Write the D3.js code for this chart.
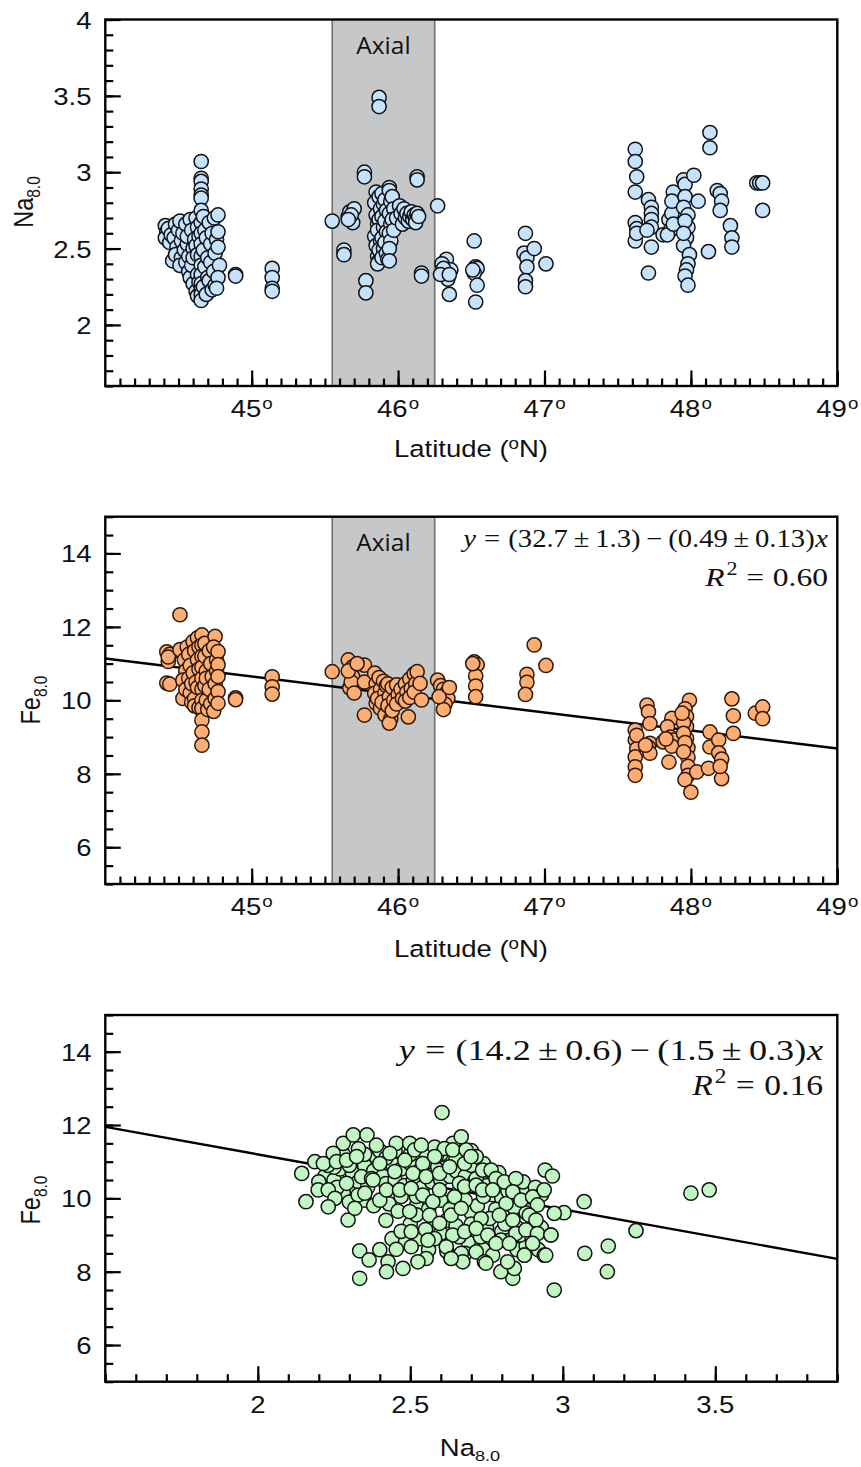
<!DOCTYPE html>
<html>
<head>
<meta charset="utf-8">
<script src="https://cdn.jsdelivr.net/npm/d3@7"></script>
<style>
  body { margin: 0; background: #fff; }
  svg { display: block; }
</style>
</head>
<body>
<svg id="fig" width="861" height="1467"></svg>
<script>
// ---------- data ----------
// Na8.0 against latitude (°N)
const naByLatitude = [
  [44.41,2.65],[44.42,2.61],[44.41,2.57],[44.43,2.63],[44.46,2.42],[44.44,2.54],[44.45,2.59],
  [44.48,2.66],[44.47,2.57],[44.49,2.51],[44.48,2.46],[44.50,2.62],
  [44.51,2.68],[44.52,2.55],[44.52,2.44],[44.51,2.39],[44.53,2.60],[44.54,2.49],
  [44.55,2.66],[44.56,2.53],[44.55,2.41],[44.57,2.35],[44.56,2.58],[44.57,2.45],[44.58,2.31],
  [44.58,2.69],[44.59,2.62],[44.60,2.50],[44.59,2.39],[44.60,2.27],[44.61,2.56],[44.60,2.44],
  [44.62,2.70],[44.63,2.64],[44.62,2.52],[44.63,2.33],[44.62,2.22],[44.63,2.46],[44.64,2.28],[44.64,2.58],[44.63,2.19],
  [44.655,3.07],[44.655,2.96],[44.655,2.94],[44.655,2.89],[44.655,2.85],[44.655,2.83],[44.655,2.75],
  [44.655,2.67],[44.655,2.60],[44.655,2.53],[44.655,2.45],[44.655,2.39],[44.655,2.33],[44.655,2.27],
  [44.655,2.23],[44.655,2.20],[44.655,2.16],
  [44.67,2.71],[44.68,2.62],[44.67,2.49],[44.68,2.38],[44.67,2.25],[44.69,2.57],[44.70,2.31],[44.69,2.20],[44.70,2.44],
  [44.71,2.67],[44.72,2.53],[44.72,2.41],[44.71,2.29],[44.73,2.23],[44.73,2.60],
  [44.745,2.70],[44.75,2.47],[44.74,2.35],[44.75,2.26],[44.76,2.56],
  [44.77,2.72],[44.77,2.61],[44.77,2.51],[44.78,2.39],[44.77,2.31],[44.76,2.24],
  [44.89,2.33],[44.89,2.32],
  [45.14,2.37],[45.14,2.31],[45.14,2.24],[45.14,2.22],
  [45.55,2.68],
  [45.66,2.71],[45.67,2.74],[45.70,2.76],[45.69,2.67],[45.68,2.72],[45.66,2.69],
  [45.63,2.49],[45.63,2.46],[45.78,2.29],[45.78,2.21],[45.77,3.00],[45.77,2.97],
  [45.87,3.49],[45.87,3.43],
  [45.85,2.87],[45.84,2.80],[45.85,2.72],[45.86,2.66],[45.84,2.58],[45.85,2.52],[45.86,2.45],
  [45.87,2.84],[45.88,2.76],[45.87,2.69],[45.86,2.62],[45.88,2.55],[45.87,2.49],[45.87,2.42],[45.86,2.40],
  [45.89,2.86],[45.90,2.79],[45.89,2.71],[45.90,2.64],[45.89,2.57],[45.90,2.50],[45.89,2.44],
  [45.91,2.82],[45.92,2.75],[45.91,2.68],[45.92,2.61],[45.91,2.54],[45.92,2.47],[45.93,2.43],
  [45.94,2.90],[45.94,2.88],[45.95,2.81],[45.94,2.73],[45.95,2.66],[45.94,2.60],[45.95,2.55],[45.94,2.50],[45.94,2.42],
  [45.96,2.84],[45.97,2.76],[45.96,2.69],[45.97,2.62],
  [45.99,2.70],[46.01,2.78],[46.02,2.73],[46.03,2.66],[46.04,2.76],[46.05,2.70],[46.06,2.73],[46.07,2.68],
  [46.08,2.71],[46.09,2.74],[46.10,2.69],[46.11,2.72],[46.12,2.70],[46.13,2.73],[46.12,2.67],[46.14,2.71],
  [46.13,2.97],[46.13,2.95],[46.27,2.78],[46.16,2.34],[46.16,2.32],
  [46.33,2.43],[46.30,2.40],[46.32,2.34],[46.36,2.36],[46.34,2.30],[46.31,2.37],[46.29,2.33],[46.35,2.33],[46.35,2.20],
  [46.52,2.55],[46.53,2.38],[46.54,2.37],[46.52,2.34],[46.54,2.26],[46.53,2.15],[46.51,2.36],
  [46.87,2.60],[46.86,2.47],[46.88,2.44],[46.93,2.50],[46.88,2.38],[46.87,2.29],[46.87,2.25],
  [47.01,2.40],
  [47.62,3.15],[47.62,3.07],[47.63,2.97],[47.62,2.87],[47.62,2.67],[47.63,2.63],[47.62,2.55],[47.63,2.60],
  [47.71,2.82],[47.73,2.77],[47.73,2.73],[47.73,2.69],[47.73,2.64],[47.70,2.62],[47.73,2.51],[47.71,2.34],
  [47.81,2.59],[47.85,2.69],[47.86,2.62],[47.84,2.59],[47.87,2.73],[47.88,2.87],[47.87,2.81],[47.88,2.66],
  [47.95,2.95],[47.96,2.92],[48.02,2.98],[47.96,2.84],[47.95,2.77],[47.98,2.72],[47.98,2.64],[47.97,2.57],
  [47.95,2.52],[47.99,2.46],[47.98,2.40],[47.97,2.36],[47.96,2.32],[47.98,2.26],[47.96,2.68],[47.95,2.60],
  [48.05,2.81],[48.13,3.26],[48.13,3.16],[48.12,2.48],
  [48.18,2.88],[48.20,2.86],[48.21,2.81],[48.20,2.75],
  [48.27,2.65],[48.28,2.57],[48.28,2.51],
  [48.45,2.93],[48.47,2.93],[48.49,2.93],[48.49,2.75]
];

// Fe8.0 against latitude (°N)
const feByLatitude = [
  [44.51,12.33],
  [44.42,11.32],[44.44,11.25],[44.43,11.06],[44.42,10.47],[44.44,10.44],[44.43,11.18],
  [44.51,11.38],[44.53,10.05],
  [44.54,11.1],[44.55,10.8],[44.53,10.55],[44.55,10.3],[44.56,11.45],
  [44.57,11.25],[44.58,10.95],[44.57,10.6],[44.58,10.2],[44.59,9.95],[44.59,10.45],
  [44.60,11.6],[44.61,11.35],[44.60,10.75],[44.61,10.05],[44.62,10.5],[44.61,9.85],
  [44.63,11.7],[44.63,11.1],[44.64,10.85],[44.63,10.35],[44.64,9.8],[44.64,11.45],
  [44.66,11.78],[44.66,11.5],[44.66,11.2],[44.66,10.9],[44.66,10.6],[44.66,10.3],[44.66,10.0],[44.66,9.78],
  [44.66,9.46],[44.66,9.14],[44.66,8.78],
  [44.68,11.55],[44.68,11.2],[44.69,10.8],[44.68,10.4],[44.69,10.0],[44.70,9.75],[44.69,10.6],
  [44.71,11.35],[44.72,11.0],[44.71,10.3],[44.72,9.9],[44.73,10.65],
  [44.75,11.74],[44.74,11.45],[44.76,11.1],[44.75,10.45],[44.75,10.05],[44.74,9.7],[44.76,10.8],
  [44.77,11.33],[44.77,10.97],[44.77,10.65],[44.77,10.24],[44.77,9.92],
  [44.89,10.07],[44.89,10.02],
  [45.14,10.64],[45.14,10.37],[45.14,10.17],
  [45.55,10.78],
  [45.66,11.10],[45.69,10.91],[45.69,10.64],[45.67,10.34],[45.68,10.5],[45.66,10.8],[45.70,10.2],
  [45.77,10.96],[45.77,10.50],[45.77,9.60],[45.72,11.0],
  [45.84,10.74],[45.85,10.45],[45.84,10.19],[45.85,9.92],
  [45.87,10.62],[45.88,10.3],[45.86,10.05],[45.88,9.78],
  [45.90,10.52],[45.91,10.2],[45.89,9.95],[45.91,9.6],[45.92,10.4],
  [45.93,10.45],[45.94,10.1],[45.93,9.85],[45.95,9.5],[45.94,9.38],
  [45.96,10.35],[45.97,10.0],[45.96,9.72],
  [45.99,10.42],[46.00,10.15],[45.99,9.9],
  [46.02,10.3],[46.03,10.05],
  [46.05,10.45],[46.06,10.22],[46.05,9.98],
  [46.08,10.58],[46.09,10.32],[46.08,10.08],
  [46.11,10.72],[46.12,10.45],[46.11,10.22],
  [46.07,9.55],[46.13,10.78],[46.15,10.46],[46.16,10.01],
  [46.27,10.55],[46.29,10.4],[46.31,10.3],[46.33,10.2],[46.34,10.05],[46.32,9.9],[46.31,9.75],[46.28,10.1],[46.35,10.35],
  [46.52,11.05],[46.54,10.97],[46.53,10.66],[46.53,10.39],[46.53,10.10],[46.51,11.0],
  [46.93,11.51],[47.01,10.95],[46.88,10.71],[46.88,10.49],[46.87,10.16],
  [47.62,9.19],[47.62,8.92],[47.63,8.68],[47.62,8.46],[47.62,8.19],[47.62,7.96],[47.63,9.05],
  [47.70,9.87],[47.71,9.69],[47.72,9.37],[47.72,8.83],[47.71,8.73],[47.70,8.64],[47.72,8.56],[47.69,8.78],
  [47.87,9.51],[47.84,9.28],[47.86,9.0],[47.88,8.92],[47.81,8.87],[47.85,8.32],[47.87,8.75],[47.83,8.95],
  [47.99,10.0],[47.96,9.77],[47.97,9.56],[47.97,9.29],[47.97,8.97],[47.98,8.71],[47.98,8.45],[47.98,8.2],
  [47.98,7.96],[47.96,7.84],[48.0,7.5],[47.95,9.4],[47.95,9.1],[47.96,8.85],[47.95,8.6],[47.94,9.65],
  [48.04,8.05],[48.12,8.15],[48.13,9.14],[48.13,8.73],
  [48.19,8.92],[48.19,8.57],[48.21,8.4],[48.21,7.87],[48.2,8.2],
  [48.28,10.04],[48.29,9.58],[48.29,9.10],
  [48.44,9.65],[48.49,9.82],[48.49,9.50]
];

// Fe8.0 against Na8.0
const feByNa = [
  // body of the cloud
  [2.22,10.6],[2.25,10.5],[2.27,10.8],[2.3,10.3],[2.31,10.7],[2.33,10.45],[2.35,10.9],[2.36,10.3],
  [2.38,10.75],[2.39,11.1],[2.41,10.6],[2.42,10.4],[2.44,10.95],[2.45,10.5],[2.47,10.8],[2.48,10.35],
  [2.5,10.95],[2.51,10.5],[2.53,10.75],[2.54,10.3],[2.56,11.0],[2.57,10.45],[2.59,10.85],[2.6,10.5],
  [2.62,11.05],[2.63,10.6],[2.65,10.75],[2.66,10.2],[2.68,10.6],[2.7,10.9],[2.71,10.45],[2.73,10.6],
  [2.75,10.35],[2.77,10.1],[2.79,10.3],[2.8,10.0],[2.82,10.2],[2.85,10.1],[2.88,10.25],[2.3,10.9],
  [2.35,11.2],[2.4,11.3],[2.45,11.3],[2.55,11.25],[2.6,11.2],[2.65,11.1],[2.25,10.85],[2.28,10.15],
  [2.35,9.95],[2.43,9.85],[2.47,10.05],[2.52,9.8],[2.56,9.7],[2.6,9.95],[2.62,9.4],[2.58,9.2],
  [2.65,9.25],[2.7,9.6],[2.72,9.8],[2.75,9.2],[2.78,9.7],[2.8,9.1],[2.83,9.6],[2.85,9.2],
  [2.88,8.95],[2.6,9.05],[2.69,8.8],[2.74,8.6],[2.77,8.45],[2.85,8.6],[2.88,8.7],[2.9,9.25],
  [2.93,9.2],[2.5,9.3],[2.53,8.9],[2.48,8.8],[2.56,8.6],[2.62,8.55],[2.68,8.5],[2.73,8.95],
  [2.82,8.85],[2.92,8.6],
  [2.40,8.6],[2.44,8.9],[2.47,9.1],[2.42,9.4],[2.52,9.55],[2.55,9.15],[2.58,8.9],[2.66,8.95],
  [2.7,9.3],[2.76,9.45],[2.81,9.3],[2.86,9.0],[2.9,8.9],[2.63,9.7],[2.68,9.95],[2.74,10.05],
  [2.84,9.75],[2.88,9.6],[2.52,10.05],[2.46,9.65],[2.38,9.8],[2.3,9.9],[2.26,10.3],[2.2,10.45],
  [2.23,10.9],[2.28,11.2],[2.33,11.35],[2.42,11.1],[2.5,11.2],[2.58,11.4],[2.64,11.5],[2.7,11.3],
  [2.74,10.95],[2.79,10.7],[2.83,10.4],[2.87,10.45],[2.91,10.3],[2.93,10.1],
  // upper rows
  [2.280,11.50],[2.313,11.73],[2.358,11.73],[2.389,11.45],[2.454,11.50],[2.498,11.50],[2.514,11.32],
  [2.536,11.45],[2.585,11.14],[2.612,11.36],[2.639,11.32],[2.683,11.32],[2.716,11.14],
  [2.187,11.0],[2.215,10.95],[2.247,11.23],[2.258,11.0],[2.291,11.04],[2.324,11.14],[2.340,10.59],
  [2.373,10.54],[2.400,10.95],[2.433,11.23],[2.449,10.73],[2.482,11.04],[2.509,10.68],[2.541,10.95],
  [2.552,10.59],[2.580,11.14],[2.596,10.68],[2.629,10.86],[2.661,10.41],[2.678,10.95],[2.699,11.14],
  [2.716,10.54],[2.737,10.77],[2.765,10.77],[2.781,10.54],[2.808,10.45],[2.846,10.54],
  // middle rows
  [2.198,10.23],[2.231,10.23],[2.253,10.0],[2.291,10.41],[2.329,10.09],[2.351,10.14],[2.378,10.5],
  [2.400,9.95],[2.422,10.23],[2.465,10.23],[2.503,10.27],[2.541,10.09],[2.574,9.91],[2.596,10.23],
  [2.645,10.04],[2.678,10.32],[2.716,10.36],[2.737,10.23],[2.770,10.23],[2.814,9.86],[2.836,10.18],
  [2.863,9.95],[2.901,10.04],[2.917,9.82],
  [2.231,9.77],[2.296,9.41],[2.318,9.73],[2.498,9.64],[2.563,9.54],[2.634,9.54],[2.667,9.73],
  [2.732,9.45],[2.792,9.54],[2.836,9.41],[2.890,9.54],[2.912,9.41],
  // lower lobe
  [2.503,9.09],[2.558,8.86],[2.596,9.32],[2.639,9.0],[2.678,9.09],[2.716,9.18],[2.754,9.0],[2.797,8.86],
  [2.846,9.04],[2.879,9.14],[2.917,9.04],[2.961,9.0],
  [2.454,8.61],[2.503,8.68],[2.618,8.68],[2.634,8.36],[2.667,8.5],[2.716,8.54],[2.743,8.27],[2.781,8.77],
  [2.825,8.77],[2.874,8.45],[2.901,8.77],[2.939,8.45],
  // scattered samples
  [2.604,12.34],[2.144,10.68],[2.158,9.91],[2.334,8.57],[2.365,8.32],[2.334,7.82],[2.427,8.27],
  [2.422,8.0],[2.476,8.09],[2.552,8.36],[2.525,8.27],[2.667,11.68],[2.942,10.77],[2.966,10.61],
  [2.939,10.23],[3.07,9.91],[3.004,9.61],[2.972,9.59],[2.961,9.0],[2.944,8.45],[2.972,7.5],
  [3.072,8.5],[3.146,8.0],[3.149,8.7],[2.836,7.82],[2.797,8.0],[2.841,8.09],[2.819,8.27],
  [2.874,8.45],[2.748,8.23],[2.672,8.27],[2.634,8.36],[3.24,9.12],[3.42,10.14],[3.48,10.23]
];

// axes and annotation values
const latTicks = [45, 46, 47, 48, 49];
const naTicks = [2, 2.5, 3, 3.5, 4];
const feTicks = [6, 8, 10, 12, 14];
const naAxisTicks = [2, 2.5, 3, 3.5];
const axialZone = [45.55, 46.25];
const fitFeLat = [32.7, 0.49];   // intercept, slope magnitude
const fitFeNa = [14.2, 1.5];

// ---------- drawing ----------
const svg = d3.select('#fig');
const SANS = "'Liberation Sans', Arial, Helvetica, sans-serif";
const SERIF = "'Liberation Serif', 'Times New Roman', serif";
const SX = 1.17; // horizontal stretch of the sans lettering
const FS = 23.5;

const LEFT = 105.3, RIGHT = 837.3;

function sansText(g, x, y, size, anchor, rotate) {
  return g.append('text')
    .attr('transform', `translate(${x},${y}) scale(${SX},1)` + (rotate ? ' rotate(-90)' : ''))
    .attr('font-family', SANS)
    .attr('font-size', size)
    .attr('text-anchor', anchor)
    .attr('fill', '#111');
}

// one line of math-style text, right aligned and stretched to a given width
function mathLine(g, right, baseline, size, pieces, width) {
  const t = g.append('text')
    .attr('text-anchor', 'end')
    .attr('font-family', SERIF).attr('font-size', size).attr('fill', '#111');
  pieces.forEach(p => {
    const s = t.append('tspan').text(p.t);
    if (p.it) s.attr('font-style', 'italic');
    if (p.dx) s.attr('dx', p.dx * size);
    if (p.dy) s.attr('dy', p.dy * size);
    if (p.fs) s.attr('font-size', p.fs * size);
  });
  const w = t.node().getBBox().width;
  t.attr('transform', `translate(${right},${baseline}) scale(${width / w},1)`);
  return t;
}

function panel(cfg) {
  const g = svg.append('g');
  const x = d3.scaleLinear().domain(cfg.xDomain).range([LEFT, RIGHT]);
  const y = d3.scaleLinear().domain(cfg.yDomain).range([cfg.bottom, cfg.top]);

  if (cfg.band) {
    const bx0 = x(cfg.band[0]), bx1 = x(cfg.band[1]);
    g.append('rect')
      .attr('x', bx0).attr('y', cfg.top)
      .attr('width', bx1 - bx0)
      .attr('height', cfg.bottom - cfg.top)
      .attr('fill', '#c6c7c9');
    cfg.band.forEach(v => g.append('line')
      .attr('x1', x(v)).attr('x2', x(v)).attr('y1', cfg.top).attr('y2', cfg.bottom)
      .attr('stroke', '#707070').attr('stroke-width', 1.6));
    g.append('text')
      .attr('x', (bx0 + bx1) / 2).attr('y', cfg.top + 34)
      .attr('text-anchor', 'middle')
      .attr('font-family', "'Open Sans', sans-serif")
      .attr('font-size', 24.5).attr('fill', '#111')
      .text('Axial');
  }

  if (cfg.fit) {
    const [a, b] = cfg.fit;
    const f = v => a - b * v;
    g.append('line')
      .attr('x1', x(cfg.xDomain[0])).attr('y1', y(f(cfg.xDomain[0])))
      .attr('x2', x(cfg.xDomain[1])).attr('y2', y(f(cfg.xDomain[1])))
      .attr('stroke', '#000').attr('stroke-width', 2.4);
  }

  g.append('g').selectAll('circle').data(cfg.data).join('circle')
    .attr('cx', d => x(d[0])).attr('cy', d => y(d[1]))
    .attr('r', 7.1)
    .attr('fill', cfg.color)
    .attr('stroke', cfg.stroke)
    .attr('stroke-width', 1.5);

  // ticks pointing into the plot
  const tickStyle = sel => {
    sel.select('.domain').remove();
    sel.selectAll('line').attr('stroke', '#000').attr('stroke-width', 2.2);
  };
  g.append('g').attr('transform', `translate(0,${cfg.bottom})`)
    .call(d3.axisBottom(x).tickValues(cfg.xMinor).tickSize(-7.5).tickFormat(''))
    .call(tickStyle);
  g.append('g').attr('transform', `translate(0,${cfg.bottom})`)
    .call(d3.axisBottom(x).tickValues(cfg.xMajor).tickSize(-15.5).tickFormat(''))
    .call(tickStyle);
  g.append('g').attr('transform', `translate(${LEFT},0)`)
    .call(d3.axisLeft(y).tickValues(cfg.yMinor).tickSize(-8).tickFormat(''))
    .call(tickStyle);
  g.append('g').attr('transform', `translate(${LEFT},0)`)
    .call(d3.axisLeft(y).tickValues(cfg.yMajor).tickSize(-15.5).tickFormat(''))
    .call(tickStyle);

  g.append('rect')
    .attr('x', LEFT).attr('y', cfg.top)
    .attr('width', RIGHT - LEFT).attr('height', cfg.bottom - cfg.top)
    .attr('fill', 'none').attr('stroke', '#000').attr('stroke-width', 2.4);

  // tick labels
  cfg.xMajor.forEach(v => {
    const t = sansText(g, x(v), cfg.bottom + 31, FS, 'middle');
    if (cfg.degrees) {
      t.append('tspan').text(v);
      t.append('tspan').attr('font-size', 16).attr('dy', -8.5).attr('dx', 1).text('o');
    } else {
      t.text(v);
    }
  });
  cfg.yMajor.forEach(v => {
    sansText(g, 91.5, y(v) + 9, FS, 'end').text(v);
  });

  // axis titles
  const yt = sansText(g, cfg.yTitleX, cfg.yTitleY, FS, 'middle', true);
  yt.append('tspan').text(cfg.yName);
  yt.append('tspan').attr('font-size', 15.5).attr('dy', 6).text('8.0');

  const xt = sansText(g, cfg.xTitleX, cfg.xTitleY, FS, 'middle');
  if (cfg.degrees) {
    xt.append('tspan').text('Latitude (');
    xt.append('tspan').attr('font-size', 16).attr('dy', -8.5).text('o');
    xt.append('tspan').attr('dy', 8.5).text('N)');
  } else {
    xt.append('tspan').text('Na');
    xt.append('tspan').attr('font-size', 15.5).attr('dy', 5).text('8.0');
  }

  if (cfg.equation) {
    const [a, ea, b, eb, r2] = cfg.equation;
    mathLine(g, cfg.eqRight, cfg.eqY, cfg.eqSize, [
      { t: 'y', it: true },
      { t: '=', dx: 0.28 },
      { t: `(${a}`, dx: 0.28 },
      { t: '±', dx: 0.2 },
      { t: `${ea})`, dx: 0.2 },
      { t: '−', dx: 0.2 },
      { t: `(${b}`, dx: 0.2 },
      { t: '±', dx: 0.2 },
      { t: `${eb})`, dx: 0.2 },
      { t: 'x', it: true, dx: 0.02 }
    ], cfg.eqWidth[0]);
    mathLine(g, cfg.eqRight, cfg.eqY + cfg.eqGap, cfg.eqSize, [
      { t: 'R', it: true },
      { t: '2', fs: 0.7, dy: -0.42, dx: 0.06 },
      { t: '=', dy: 0.42, dx: 0.28 },
      { t: r2, dx: 0.28 }
    ], cfg.eqWidth[1]);
  }
}

const latMinor = d3.range(441, 490).map(v => v / 10);
const naMinor = d3.range(16, 41).map(v => v / 10);
const feMinor = d3.range(10, 31).map(v => v / 2);
const naAxisMinor = d3.range(15, 40).map(v => v / 10);

panel({
  top: 19.5, bottom: 386,
  xDomain: [44, 49], yDomain: [1.6, 4],
  xMajor: latTicks, xMinor: latMinor, yMajor: naTicks, yMinor: naMinor,
  data: naByLatitude, color: '#c5e3ff', stroke: '#111',
  band: axialZone, degrees: true,
  yName: 'Na', yTitleX: 33, yTitleY: 202,
  xTitleX: 471, xTitleY: 457
});

panel({
  top: 516.7, bottom: 884,
  xDomain: [44, 49], yDomain: [5, 15],
  xMajor: latTicks, xMinor: latMinor, yMajor: feTicks, yMinor: feMinor,
  data: feByLatitude, color: '#ffad72', stroke: '#2a1a0c',
  band: axialZone, degrees: true, fit: fitFeLat,
  equation: [fitFeLat[0], 1.3, fitFeLat[1], 0.13, '0.60'],
  eqRight: 828, eqY: 547, eqGap: 39, eqSize: 25.5, eqWidth: [369, 124],
  yName: 'Fe', yTitleX: 40, yTitleY: 700,
  xTitleX: 471, xTitleY: 957
});

panel({
  top: 1015, bottom: 1381.7,
  xDomain: [1.5, 3.9], yDomain: [5, 15],
  xMajor: naAxisTicks, xMinor: naAxisMinor, yMajor: feTicks, yMinor: feMinor,
  data: feByNa, color: '#c0f7c2', stroke: '#111',
  fit: fitFeNa,
  equation: [fitFeNa[0], 0.6, fitFeNa[1], 0.3, '0.16'],
  eqRight: 823, eqY: 1060, eqGap: 35, eqSize: 29.5, eqWidth: [428, 132],
  yName: 'Fe', yTitleX: 40, yTitleY: 1200,
  xTitleX: 470, xTitleY: 1456
});
</script>
</body>
</html>
